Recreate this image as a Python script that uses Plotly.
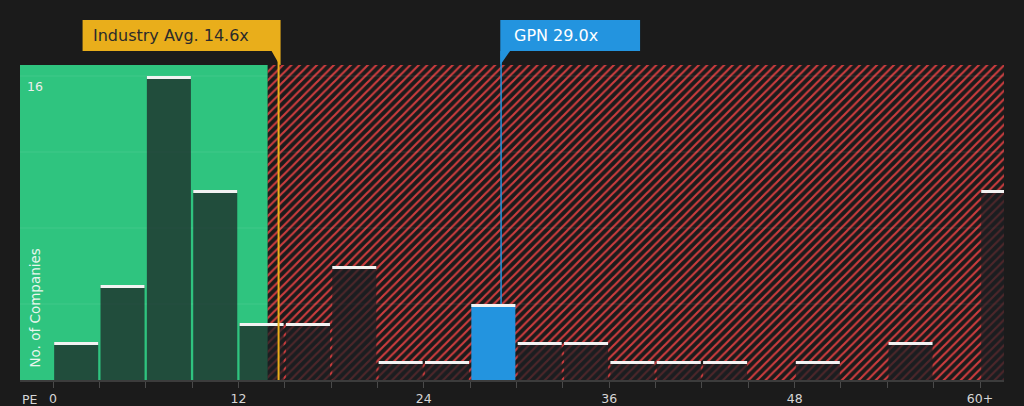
import plotly.graph_objects as go

# ---------------- data ----------------
bin_starts = [0, 3, 6, 9, 12, 15, 18, 21, 24, 27, 30, 33, 36, 39, 42, 45, 48, 51, 54, 57, 60]
counts = [2, 5, 16, 10, 3, 3, 6, 1, 1, 4, 2, 2, 1, 1, 1, 0, 1, 0, 2, 0, 10]
tick_values = [0, 3, 6, 9, 12, 15, 18, 21, 24, 27, 30, 33, 36, 39, 42, 45, 48, 51, 54, 57, 60]
tick_labels = ["0", "", "", "", "12", "", "", "", "24", "", "", "", "36", "", "", "", "48", "", "", "", "60+"]
grid_values = [4, 8, 12, 16]
industry_avg = 14.6
company_pe = 29.0
company_name = "GPN"
fair_end = 13.9          # end of the green (undervalued) zone
bin_size = 3

# ---------------- style ----------------
BG = "#1b1b1b"
GREEN = "#2fc47f"
RED = "#cc3c3e"
GOLD = "#e9ae1b"
BLUE = "#2394df"
TXT = "#d6d6d6"
X_MIN, X_MAX = -2.136, 61.55
Y_MAX = 16.58
BAR_W = 2.85
PLOT_H = 315

centers = [s + bin_size / 2 for s in bin_starts]
company_bin = int(company_pe // bin_size)

fig = go.Figure()

# green zone
fig.add_trace(go.Bar(
    x=[(X_MIN - 5 + fair_end) / 2], y=[Y_MAX * 1.5], width=[fair_end - X_MIN + 5], base=[0],
    marker=dict(color=GREEN, line=dict(width=0)), hoverinfo="skip", showlegend=False))
# red hatched zone
fig.add_trace(go.Bar(
    x=[(fair_end + X_MAX + 5) / 2], y=[Y_MAX * 1.5], width=[X_MAX + 5 - fair_end], base=[0],
    marker=dict(color=BG, line=dict(width=0),
                pattern=dict(shape="/", fgcolor=RED, bgcolor=BG, size=6, solidity=0.36, fillmode="replace")),
    hoverinfo="skip", showlegend=False))
# grid lines
fig.add_trace(go.Bar(
    x=[(X_MIN + X_MAX) / 2] * len(grid_values), y=[0.06] * len(grid_values),
    base=[g - 0.03 for g in grid_values], width=[X_MAX - X_MIN + 10] * len(grid_values),
    marker=dict(color="rgba(255,255,255,0.09)", line=dict(width=0)), hoverinfo="skip", showlegend=False))

# histogram bars
bar_colors = [BLUE if i == company_bin else "rgba(28,30,34,0.72)" for i in range(len(counts))]
fig.add_trace(go.Bar(
    x=centers, y=counts, width=[BAR_W] * len(counts), base=[0] * len(counts),
    marker=dict(color=bar_colors, line=dict(width=0)), showlegend=False))

# white caps
cap_x = [c for c, v in zip(centers, counts) if v > 0]
cap_v = [v for v in counts if v > 0]
cap_h = 3 / 19
fig.add_trace(go.Bar(
    x=cap_x, y=[cap_h] * len(cap_x), base=[v - cap_h for v in cap_v], width=[BAR_W] * len(cap_x),
    marker=dict(color="#f2f2f2", line=dict(width=0)), hoverinfo="skip", showlegend=False))

shapes = [
    # industry average line
    dict(type="line", xref="x", yref="paper", x0=industry_avg, x1=industry_avg, y0=0, y1=1 + 14 / PLOT_H,
         line=dict(color=GOLD, width=2), layer="above"),
    # company line
    dict(type="line", xref="x", yref="paper", x0=company_pe, x1=company_pe,
         y0=counts[company_bin] / Y_MAX, y1=1 + 14 / PLOT_H, line=dict(color=BLUE, width=1.5), layer="above"),
    # industry label box
    dict(type="path", xref="x", yref="paper", xsizemode="pixel", ysizemode="pixel",
         xanchor=industry_avg, yanchor=1,
         path="M-196,14 L-7,14 L1,0 L2,0 L2,45 L-196,45 Z",
         fillcolor=GOLD, line=dict(width=0), layer="above"),
    # company label box
    dict(type="path", xref="x", yref="paper", xsizemode="pixel", ysizemode="pixel",
         xanchor=company_pe, yanchor=1,
         path="M-0.8,0 L-0.8,45 L139,45 L139,14 L9,14 Z",
         fillcolor=BLUE, line=dict(width=0), layer="above"),
]

annotations = [
    dict(text=f"Industry Avg. {industry_avg}x", x=industry_avg, xref="x", xanchor="left", xshift=-188,
         y=1, yref="paper", yanchor="middle", yshift=29.5, showarrow=False,
         font=dict(size=16, color="#2b2b2b")),
    dict(text=f"{company_name} {company_pe}x", x=company_pe, xref="x", xanchor="left", xshift=11,
         y=1, yref="paper", yanchor="middle", yshift=29.5, showarrow=False,
         font=dict(size=16, color="#ffffff")),
    dict(text="16", x=0, xref="paper", xanchor="left", xshift=5, y=16, yref="y", yanchor="top", yshift=-1,
         showarrow=False, font=dict(size=12.5, color="#eeeeee")),
    dict(text="No. of Companies", x=0, xref="paper", xanchor="center", xshift=14, y=0, yref="paper",
         yanchor="bottom", yshift=10, textangle=-90, showarrow=False,
         font=dict(size=13.5, color="#e8f6ee")),
    dict(text="PE", x=0, xref="paper", xanchor="left", xshift=0, y=0, yref="paper", yanchor="top",
         yshift=-10, showarrow=False, font=dict(size=12.5, color=TXT)),
]

fig.update_layout(
    width=1024, height=406,
    margin=dict(l=20, r=20, t=65, b=26, autoexpand=False),
    paper_bgcolor=BG, plot_bgcolor=BG,
    barmode="overlay",
    font=dict(family="DejaVu Sans", color=TXT),
    shapes=shapes, annotations=annotations,
    showlegend=False,
    xaxis=dict(range=[X_MIN, X_MAX], tickmode="array", tickvals=tick_values, ticktext=tick_labels,
               ticks="outside", ticklen=6, tickcolor="#4a4a4a", tickwidth=1,
               showline=True, linecolor="#3c3c3c", linewidth=1.5, automargin=False,
               showgrid=False, zeroline=False, tickfont=dict(size=12.5, color=TXT), fixedrange=True),
    yaxis=dict(range=[0, Y_MAX], showticklabels=False, showgrid=False, zeroline=False, ticks="",
               automargin=False, fixedrange=True),
)

fig.write_html("out.html", config={"displayModeBar": False},
               post_script="document.body.style.margin='0';document.body.style.background='#1b1b1b';")
